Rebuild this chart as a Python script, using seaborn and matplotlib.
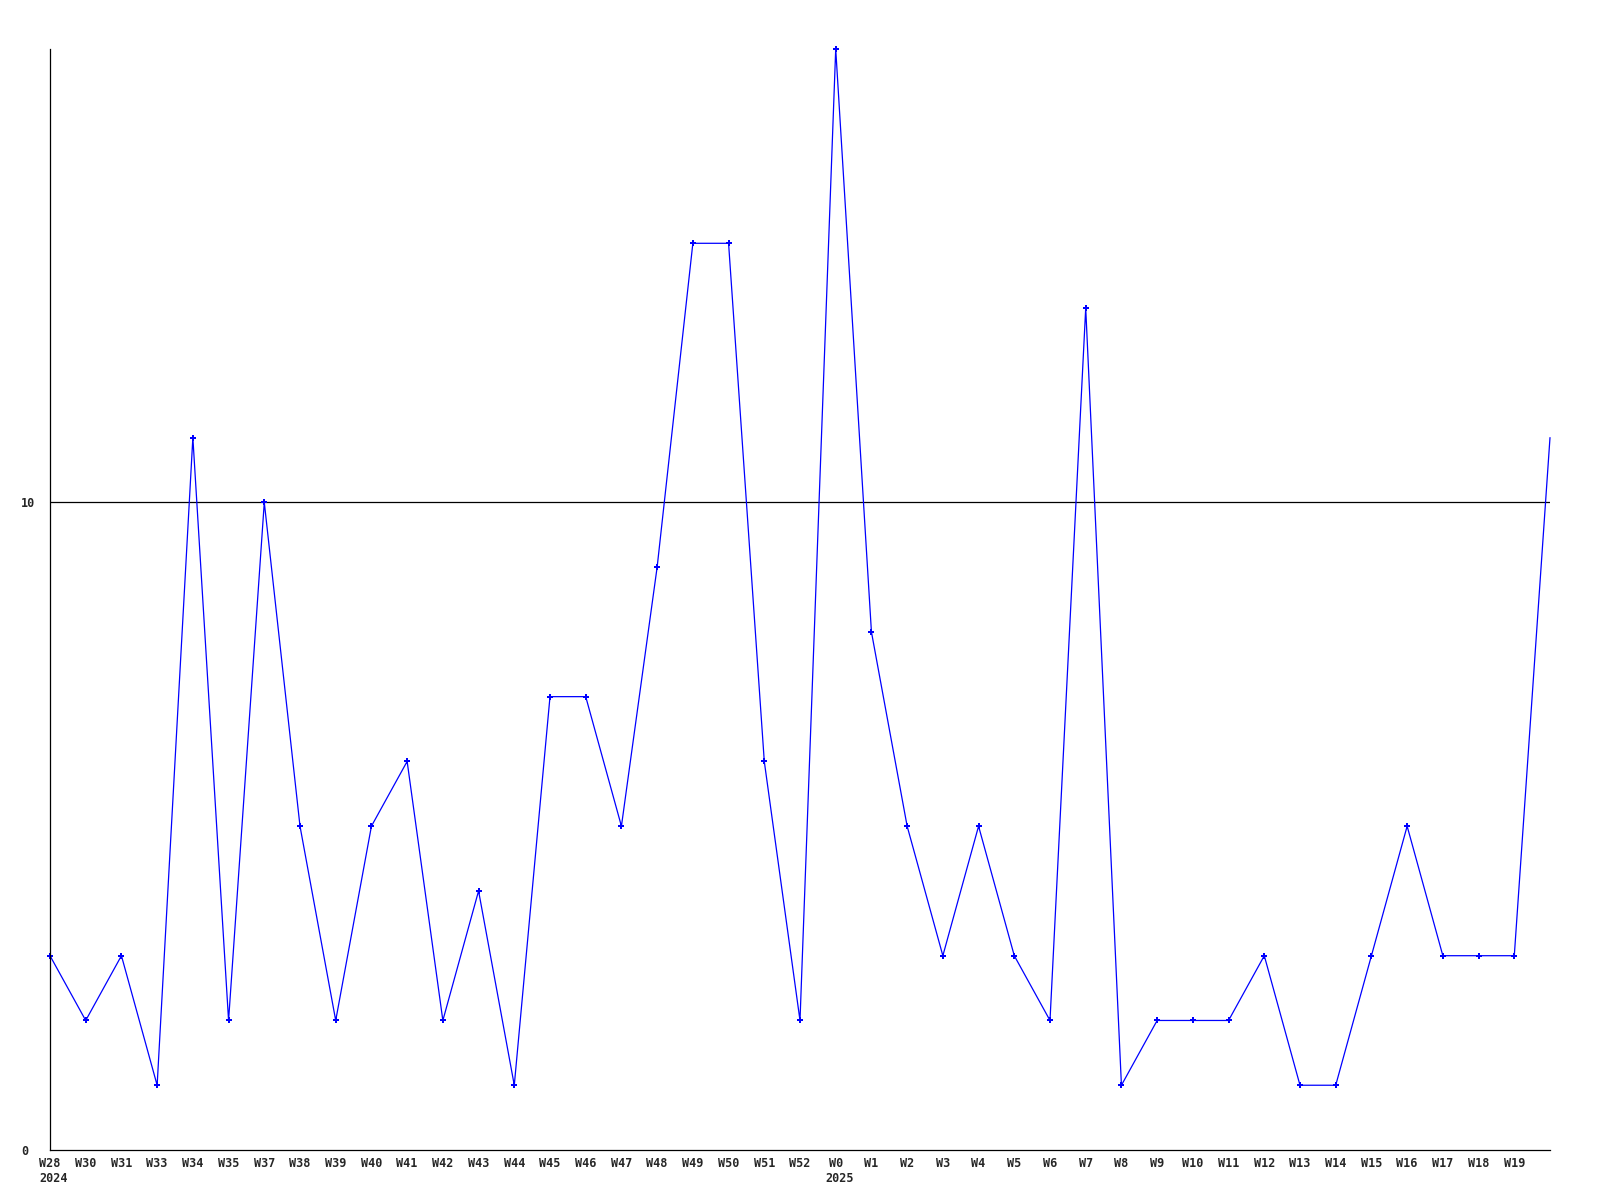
import numpy as np
import pandas as pd
import matplotlib
matplotlib.use('Agg')
import matplotlib.pyplot as plt
import seaborn as sns

sns.set_theme(style='white')
plt.rcParams['font.family'] = ['DejaVu Sans Mono']

weeks = ['W28', 'W30', 'W31', 'W33', 'W34', 'W35', 'W37', 'W38', 'W39', 'W40',
         'W41', 'W42', 'W43', 'W44', 'W45', 'W46', 'W47', 'W48', 'W49', 'W50',
         'W51', 'W52', 'W0', 'W1', 'W2', 'W3', 'W4', 'W5', 'W6', 'W7',
         'W8', 'W9', 'W10', 'W11', 'W12', 'W13', 'W14', 'W15', 'W16', 'W17',
         'W18', 'W19', '']
counts = [3, 2, 3, 1, 11, 2, 10, 5, 2, 5,
          6, 2, 4, 1, 7, 7, 5, 9, 14, 14,
          6, 2, 17, 8, 5, 3, 5, 3, 2, 13,
          1, 2, 2, 2, 3, 1, 1, 3, 5, 3,
          3, 3, 11]
years = {'W28': '2024', 'W0': '2025'}
y_ticks = [0, 10]

df = pd.DataFrame({'pos': np.arange(len(counts)), 'count': counts})

fig = plt.figure(figsize=(16, 12), dpi=100)
ax = fig.add_axes([50 / 1600, 1 - 1150 / 1200, 1500 / 1600, 1101 / 1200])

sns.lineplot(data=df, x='pos', y='count', ax=ax, color='#0000ff', linewidth=0.9,
             marker='P', markersize=4, markeredgewidth=0, clip_on=False,
             markevery=list(range(len(counts) - 1)))

ax.set_xlim(0, len(counts) - 1)
ax.set_ylim(0, max(counts))
ax.axhline(10, color='black', linewidth=0.9, zorder=0)

for s in ['top', 'right']:
    ax.spines[s].set_visible(False)
for s in ['left', 'bottom']:
    ax.spines[s].set_color('black')
    ax.spines[s].set_linewidth(0.9)

ax.set_xticks(df['pos'])
ax.set_xticklabels(weeks, fontsize=8.5, fontweight='bold')
ax.set_yticks(y_ticks)
ax.set_yticklabels([str(t) for t in y_ticks], fontsize=8.5, fontweight='bold', ha='left')
ax.tick_params(axis='x', length=0, pad=5)
ax.tick_params(axis='y', length=0, pad=21)
ax.set_xlabel('')
ax.set_ylabel('')

for i, w in enumerate(weeks):
    if w in years:
        ax.annotate(years[w], xy=(i, 0), xycoords=('data', 'axes fraction'),
                    xytext=(-7.5, -16), textcoords='offset points',
                    ha='left', va='top', fontsize=8.5, fontweight='bold')

fig.savefig('out.png', dpi=100)
